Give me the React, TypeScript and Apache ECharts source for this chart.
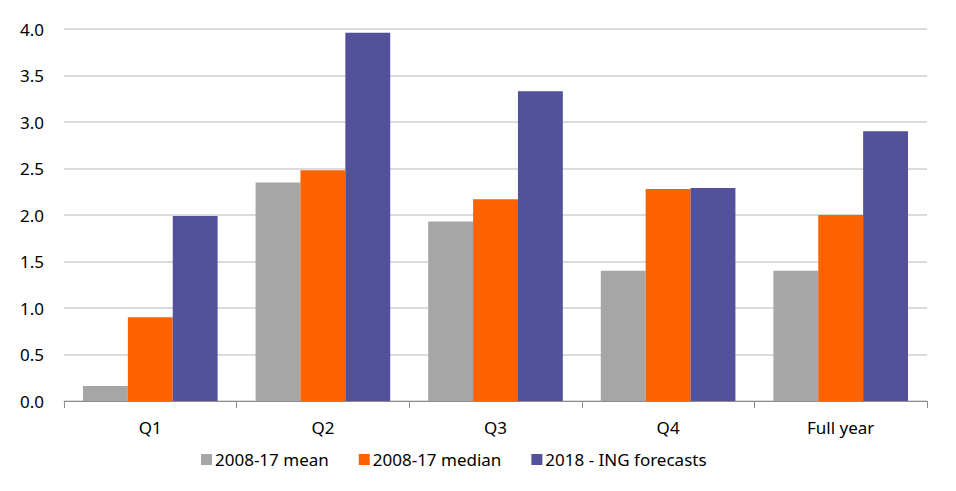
import React, { useEffect, useRef } from "react";
import * as echarts from "echarts";

const categories = ["Q1", "Q2", "Q3", "Q4", "Full year"];
const meanValues = [0.16, 2.35, 1.93, 1.4, 1.4];
const medianValues = [0.9, 2.48, 2.17, 2.28, 2.0];
const ingValues = [1.99, 3.96, 3.33, 2.29, 2.9];
const seriesNames = ["2008-17 mean", "2008-17 median", "2018 - ING forecasts"];
const colors = ["#a6a6a6", "#ff6200", "#525199"];

export default function App() {
  const ref = useRef<HTMLDivElement>(null);
  useEffect(() => {
    if (!ref.current) return;
    const chart = echarts.init(ref.current, null, { renderer: "svg" });
    const font = "'Noto Sans', sans-serif";
    chart.setOption({
      animation: false,
      color: colors,
      grid: { left: 64, right: 29, top: 29, bottom: 90, containLabel: false },
      legend: {
        data: seriesNames,
        bottom: 18,
        left: 196,
        itemWidth: 11,
        itemHeight: 11,
        itemGap: 30,
        icon: "rect",
        textStyle: { fontFamily: font, fontSize: 17, color: "#000", padding: [0, 0, 0, -2] },
      },
      xAxis: {
        type: "category",
        data: categories,
        axisLine: { lineStyle: { color: "#8c8c8c", width: 1 } },
        axisTick: { show: true, length: 7, lineStyle: { color: "#8c8c8c" } },
        axisLabel: { fontFamily: font, fontSize: 17, color: "#000", margin: 18 },
      },
      yAxis: {
        type: "value",
        min: 0,
        max: 4,
        interval: 0.5,
        axisLine: { show: false },
        axisTick: { show: false },
        axisLabel: {
          fontFamily: font,
          fontSize: 17,
          color: "#000",
          margin: 20,
          formatter: (v: number) => v.toFixed(1),
        },
        splitLine: { lineStyle: { color: "#cfcfcf", width: 1.5 } },
      },
      series: [
        { name: seriesNames[0], type: "bar", data: meanValues, barGap: "0%", barCategoryGap: "22%" },
        { name: seriesNames[1], type: "bar", data: medianValues, barGap: "0%", barCategoryGap: "22%" },
        { name: seriesNames[2], type: "bar", data: ingValues, barGap: "0%", barCategoryGap: "22%" },
      ],
    });
    return () => chart.dispose();
  }, []);
  return <div ref={ref} style={{ width: 956, height: 491, position: "absolute", left: 0, top: 0 }} />;
}
